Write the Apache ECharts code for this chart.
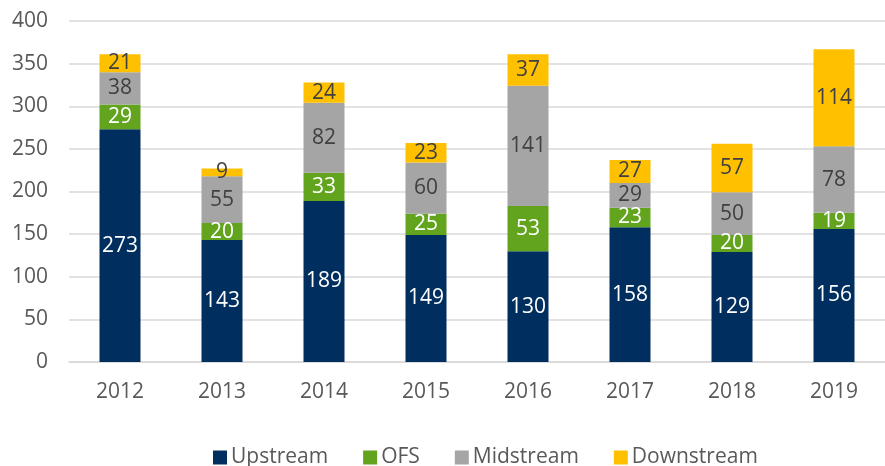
<!DOCTYPE html>
<html>
<head>
<meta charset="utf-8">
<script src="https://cdn.jsdelivr.net/npm/echarts@6/dist/echarts.min.js"></script>
<style>
html, body { margin: 0; padding: 0; background: #fff; }
#chart { width: 885px; height: 466px; }
</style>
</head>
<body>
<div id="chart"></div>
<script>
var years = ["2012", "2013", "2014", "2015", "2016", "2017", "2018", "2019"];
var upstream = [273, 143, 189, 149, 130, 158, 129, 156];
var ofs = [29, 20, 33, 25, 53, 23, 20, 19];
var midstream = [38, 55, 82, 60, 141, 29, 50, 78];
var downstream = [21, 9, 24, 23, 37, 27, 57, 114];

var font = "'Open Sans', sans-serif";

function bar(name, data, color, textColor) {
  return {
    name: name,
    type: "bar",
    stack: "total",
    data: data,
    barWidth: 41,
    itemStyle: { color: color },
    label: {
      show: true,
      position: "inside",
      color: textColor,
      fontFamily: font,
      fontSize: 21
    }
  };
}

var chart = echarts.init(document.getElementById("chart"));
chart.setOption({
  animation: false,
  textStyle: { fontFamily: font },
  grid: { left: 69, top: 21, width: 824, height: 341 },
  legend: {
    top: 442,
    left: 208,
    itemWidth: 14,
    itemHeight: 14,
    itemGap: 35,
    icon: "rect",
    textStyle: { color: "#595959", fontSize: 21, fontFamily: font, padding: [0, 0, 0, -1] },
    data: ["Upstream", "OFS", "Midstream", "Downstream"]
  },
  xAxis: {
    type: "category",
    data: years,
    axisLine: { lineStyle: { color: "#d9d9d9", width: 1.5 } },
    axisTick: { show: false },
    axisLabel: { color: "#595959", fontSize: 21, fontFamily: font, margin: 20 }
  },
  yAxis: {
    type: "value",
    min: 0,
    max: 400,
    interval: 50,
    axisLine: { show: false },
    axisTick: { show: false },
    splitLine: { lineStyle: { color: "#d9d9d9", width: 1.5 } },
    axisLabel: { color: "#595959", fontSize: 21, fontFamily: font, margin: 21 }
  },
  series: [
    bar("Upstream", upstream, "#002f5f", "#ffffff"),
    bar("OFS", ofs, "#62a41e", "#ffffff"),
    bar("Midstream", midstream, "#a5a5a5", "#404040"),
    bar("Downstream", downstream, "#ffc000", "#404040")
  ]
});
</script>
</body>
</html>
